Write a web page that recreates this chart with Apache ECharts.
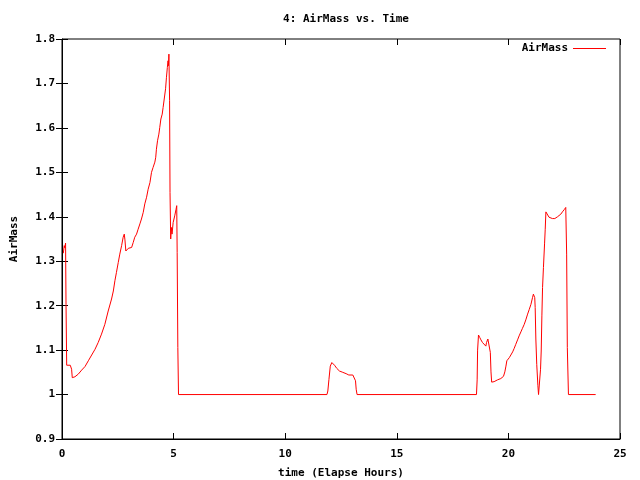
<!DOCTYPE html>
<html><head><meta charset="utf-8">
<script src="https://cdn.jsdelivr.net/npm/echarts@6/dist/echarts.min.js"></script>
<style>html,body{margin:0;padding:0;background:#fff}#c{width:640px;height:480px}</style>
</head><body><div id="c"></div>
<script>
const titleText = "4: AirMass vs. Time";
const xName = "time (Elapse Hours)";
const yName = "AirMass";
const seriesName = "AirMass";
const times = [0.06,0.10,0.13,0.16,0.18,0.21,0.37,0.43,0.46,0.58,0.73,0.88,1.03,1.18,1.33,1.48,1.62,1.77,1.92,2.07,2.22,2.30,2.37,2.44,2.52,2.59,2.67,2.74,2.79,2.82,2.86,2.89,2.97,3.04,3.12,3.19,3.26,3.34,3.41,3.49,3.56,3.64,3.71,3.79,3.86,3.94,4.01,4.08,4.16,4.20,4.23,4.28,4.34,4.38,4.43,4.49,4.53,4.58,4.64,4.68,4.72,4.75,4.77,4.79,4.82,4.84,4.87,4.90,4.93,4.98,5.05,5.11,5.14,5.16,5.19,5.22,
11.87,11.91,11.96,12.02,12.09,12.21,12.31,12.43,12.58,12.73,12.85,13.03,13.10,13.15,13.18,13.22,
18.57,18.60,18.62,18.66,18.72,18.77,18.84,18.92,18.99,19.02,19.08,19.13,19.16,19.19,19.22,19.25,19.36,19.51,19.66,19.78,19.84,19.89,19.93,20.04,20.11,20.19,20.26,20.33,20.41,20.48,20.56,20.63,20.71,20.78,20.86,20.93,21.01,21.08,21.12,21.15,21.18,21.20,21.23,21.27,21.32,21.35,21.42,21.44,21.47,21.50,21.53,21.57,21.62,21.65,21.68,21.75,21.82,21.90,21.97,22.08,22.20,22.27,22.35,22.42,22.50,22.57,22.60,22.61,22.64,22.69,23.91];
const airmass = [1.318,1.335,1.330,1.341,1.203,1.066,1.066,1.057,1.038,1.040,1.046,1.055,1.063,1.076,1.089,1.102,1.117,1.136,1.158,1.188,1.215,1.233,1.256,1.275,1.297,1.316,1.335,1.354,1.361,1.348,1.323,1.327,1.329,1.326,1.331,1.342,1.354,1.361,1.372,1.384,1.395,1.410,1.429,1.444,1.462,1.477,1.500,1.511,1.523,1.534,1.552,1.571,1.586,1.601,1.620,1.631,1.646,1.665,1.688,1.714,1.736,1.751,1.740,1.766,1.661,1.455,1.350,1.376,1.361,1.387,1.402,1.417,1.425,1.320,1.106,1.000,
1.000,1.008,1.034,1.064,1.072,1.066,1.059,1.053,1.050,1.047,1.044,1.044,1.042,1.031,1.012,1.000,
1.000,1.033,1.100,1.134,1.128,1.123,1.117,1.113,1.109,1.117,1.125,1.128,1.121,1.095,1.051,1.028,1.029,1.033,1.036,1.041,1.051,1.064,1.076,1.083,1.089,1.096,1.104,1.113,1.123,1.132,1.141,1.149,1.158,1.168,1.181,1.191,1.203,1.218,1.226,1.230,1.218,1.196,1.125,1.068,1.021,1.000,1.000,1.057,1.098,1.177,1.241,1.286,1.339,1.372,1.411,1.408,1.399,1.395,1.396,1.396,1.400,1.402,1.406,1.411,1.416,1.421,1.419,1.316,1.106,1.000,1.000];
const xTicks = [0,5,10,15,20,25];
const yTicks = [0.9,1,1.1,1.2,1.3,1.4,1.5,1.6,1.7,1.8];

const pts = [];
for (let i = 0; i < times.length; i++) pts.push([times[i], airmass[i]]);

const font = "DejaVu Sans Mono";
const lbl = {fontFamily: font, fontWeight: 'bold', fontSize: 11, color: '#000'};
const chart = echarts.init(document.getElementById('c'), null, {renderer: 'canvas'});
chart.setOption({
  animation: false,
  backgroundColor: '#fff',
  title: {text: titleText, left: 341, top: 9, textAlign: 'center',
    textStyle: Object.assign({}, lbl)},
  legend: {data: [seriesName], right: 34, top: 43, align: 'right',
    icon: 'rect', itemWidth: 33, itemHeight: 1, itemGap: 8,
    textStyle: Object.assign({}, lbl), padding: 0},
  grid: {left: 62, right: 20, top: 39, bottom: 41, show: true, borderColor: '#000', borderWidth: 1,
    containLabel: false, outerBoundsMode: 'none'},
  xAxis: [{
    type: 'value', min: 0, max: 25, interval: 5,
    name: xName, nameLocation: 'middle', nameGap: 29, nameTextStyle: Object.assign({}, lbl),
    axisLine: {show: true, lineStyle: {color: '#000'}},
    axisTick: {show: true, inside: true, length: 6, lineStyle: {color: '#000'}},
    axisLabel: Object.assign({margin: 10, formatter: v => xTicks.includes(v) ? String(v) : ''}, lbl),
    splitLine: {show: false}
  }, {
    type: 'value', min: 0, max: 25, interval: 5, position: 'top',
    axisLine: {show: false}, axisTick: {show: true, inside: true, length: 6, lineStyle: {color: '#000'}},
    axisLabel: {show: false}, splitLine: {show: false}
  }],
  yAxis: [{
    type: 'value', min: 0.9, max: 1.8, interval: 0.1,
    name: yName, nameLocation: 'middle', nameGap: 42, nameRotate: 90, nameTextStyle: Object.assign({}, lbl),
    axisLine: {show: true, lineStyle: {color: '#000'}},
    axisTick: {show: true, inside: true, length: 6, lineStyle: {color: '#000'}},
    axisLabel: Object.assign({margin: 7, formatter: v => {
      const r = Math.round(v * 10) / 10; return String(r);
    }}, lbl),
    splitLine: {show: false}
  }, {
    type: 'value', min: 0.9, max: 1.8, interval: 0.1, position: 'right',
    axisLine: {show: false}, axisTick: {show: true, inside: true, length: 6, lineStyle: {color: '#000'}},
    axisLabel: {show: false}, splitLine: {show: false}
  }],
  series: [{
    name: seriesName, type: 'line', data: pts, showSymbol: false, symbol: 'none',
    lineStyle: {color: '#ff0000', width: 1}, itemStyle: {color: '#ff0000'}
  }]
});
</script></body></html>
